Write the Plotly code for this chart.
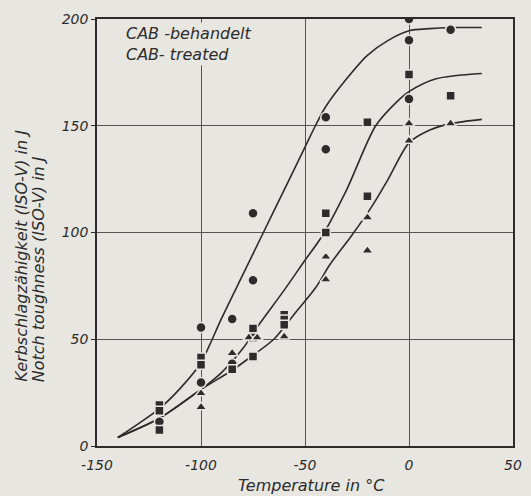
import plotly.graph_objects as go

# ---- data ----
# fitted curves (temperature in °C, notch toughness in J)
upper_t = [-140, -130, -120, -110, -100, -96, -90, -80, -70, -60, -50, -45, -40, -30, -20, -10, 0, 10, 20, 35]
upper_kv = [4, 10.5, 17.5, 27, 39, 47, 60, 80, 100, 120, 140, 150, 159, 172, 183, 190, 194.5, 195.5, 196, 196]

middle_t = [-140, -120, -100, -90, -80, -72, -60, -50, -42, -30, -16, -5, 0, 13, 35]
middle_kv = [4, 13, 26.5, 34.5, 45.5, 57, 73, 87, 98, 120, 150, 162, 166, 172, 174.5]

lower_t = [-140, -120, -100, -85, -75, -65, -55, -45, -38, -28, -18, -10, 0, 10, 20, 35]
lower_kv = [4, 13, 26.5, 35.5, 42.5, 50, 62, 74, 85, 98, 112, 125, 142, 148, 151, 153]

# measured points
circle_t = [-120, -100, -100, -85, -85, -75, -75, -40, -40, 0, 0, 0, 20]
circle_kv = [11.4, 55.5, 29.7, 59.5, 38.5, 109, 77.6, 154, 139, 200, 190, 162.5, 195]

square_t = [-120, -120, -120, -100, -100, -85, -75, -75, -75, -60, -60, -60, -40, -40, -20, -20, 0, 20]
square_kv = [19.2, 16.5, 7.5, 41.5, 38, 36, 55, 50.8, 41.9, 61.5, 59.2, 56.8, 109, 100, 151.6, 117, 174, 164]

tri_t = [-100, -100, -85, -77, -73, -60, -40, -40, -20, -20, 0, 0, 20]
tri_kv = [24.7, 18.2, 43.5, 50.8, 50.8, 51.3, 88.6, 78, 107, 91.5, 151, 143, 151]

x_ticks = [-150, -100, -50, 0, 50]
x_ticktext = ["-150", "-100", "-50", "0", "50"]
y_ticks = [0, 50, 100, 150, 200]
y_ticktext = ["0", "50", "100", "150", "200"]

legend_text = "CAB -behandelt<br>CAB- treated"
y_title_de = "Kerbschlagzähigkeit (ISO-V) in J"
y_title_en = "Notch toughness (ISO-V) in J"
x_title = "Temperature in °C"

# ---- styling ----
BG = "#e8e6e1"
INK = "#2c2c2c"
FONT = "DejaVu Sans"

fig = go.Figure()

for t, kv in [(upper_t, upper_kv), (middle_t, middle_kv), (lower_t, lower_kv)]:
    fig.add_trace(go.Scatter(
        x=t, y=kv, mode="lines",
        line=dict(color=INK, width=1.6, shape="spline", smoothing=0.8),
        hoverinfo="skip", showlegend=False))

for t, kv, sym, size in [(circle_t, circle_kv, "circle", 10),
                         (square_t, square_kv, "square", 9),
                         (tri_t, tri_kv, "triangle-up", 10)]:
    fig.add_trace(go.Scatter(
        x=t, y=kv, mode="markers",
        marker=dict(symbol=sym, size=size, color=INK,
                    line=dict(color=BG, width=1.5)),
        showlegend=False))

axis_font = dict(family=FONT, size=14, color=INK, style="italic")

fig.update_xaxes(
    range=[-150, 50], tickvals=x_ticks, ticktext=x_ticktext,
    showgrid=True, gridcolor="#555555", gridwidth=1,
    showline=True, linecolor=INK, linewidth=1.6, mirror=True,
    ticks="outside", ticklen=5, tickcolor="rgba(0,0,0,0)",
    zeroline=False, tickfont=axis_font)
fig.update_yaxes(
    range=[0, 200], tickvals=y_ticks, ticktext=y_ticktext,
    showgrid=True, gridcolor="#555555", gridwidth=1,
    showline=True, linecolor=INK, linewidth=1.6, mirror=True,
    ticks="outside", ticklen=4, tickcolor=INK,
    zeroline=False, tickfont=axis_font)

L, R, T, B = 97, 9, 19, 50
W, H = 531, 496
pw, ph = W - L - R, H - T - B

def px(xp):
    return (xp - L) / pw

def py(yp):
    return (H - B - yp) / ph

fig.add_annotation(
    x=px(125), y=py(22), xref="paper", yref="paper",
    xanchor="left", yanchor="top", align="left",
    text=legend_text, showarrow=False, bgcolor=BG, borderpad=1,
    font=dict(family=FONT, size=16, color=INK, style="italic"))

fig.add_annotation(
    x=px(19), y=py(384), xref="paper", yref="paper",
    xanchor="center", yanchor="bottom", textangle=-90,
    text=y_title_de, showarrow=False,
    font=dict(family=FONT, size=16, color=INK, style="italic"))
fig.add_annotation(
    x=px(37), y=py(384), xref="paper", yref="paper",
    xanchor="center", yanchor="bottom", textangle=-90,
    text=y_title_en, showarrow=False,
    font=dict(family=FONT, size=16, color=INK, style="italic"))

fig.add_annotation(
    x=px(316), y=py(485), xref="paper", yref="paper",
    xanchor="center", yanchor="middle",
    text=x_title, showarrow=False,
    font=dict(family=FONT, size=16, color=INK, style="italic"))

fig.update_layout(
    width=W, height=H,
    margin=dict(l=L, r=R, t=T, b=B),
    paper_bgcolor=BG, plot_bgcolor=BG,
    font=dict(family=FONT, color=INK),
)

fig.write_html("out.html")
